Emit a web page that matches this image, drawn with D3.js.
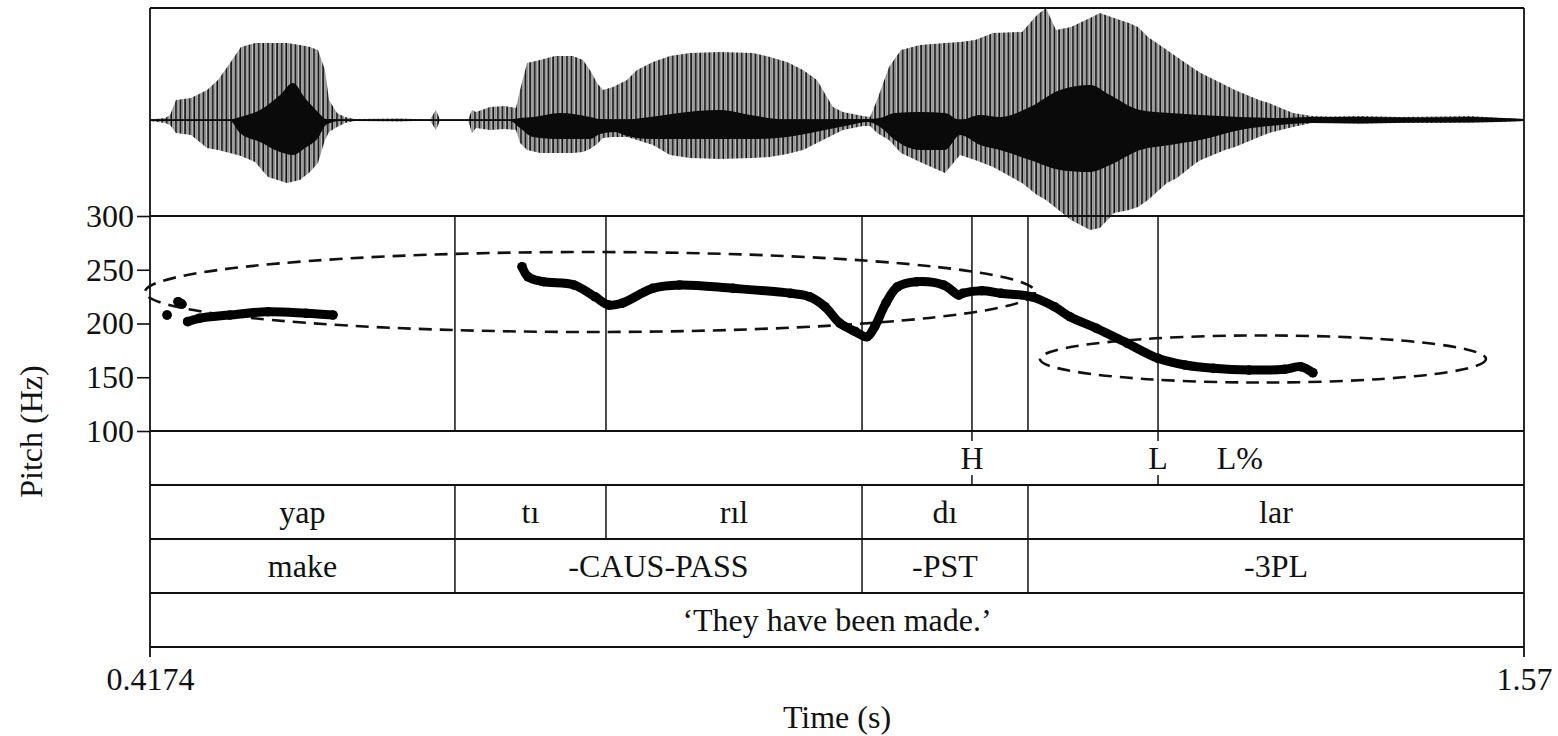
<!DOCTYPE html>
<html>
<head>
<meta charset="utf-8">
<script src="https://cdn.jsdelivr.net/npm/d3@7"></script>
<style>
  body { margin: 0; background: #fff; }
  svg { display: block; }
  text { font-family: "Liberation Serif", "Times New Roman", serif; fill: #111; }
</style>
</head>
<body>
<div id="chart"></div>
<script>
// ---- data ----
var timeDomain = [0.4174, 1.57];
var timeTicks = [0.4174, 1.57];
var timeTickLabels = ["0.4174", "1.57"];
var pitchTicks = [100, 150, 200, 250, 300];

// waveform outer envelope (time s, upper / lower amplitude)
var wfTime = [0.4174,0.4300,0.4342,0.4392,0.4518,0.4652,0.4744,0.4845,0.4937,0.5055,0.5164,0.5323,0.5432,0.5516,0.5583,0.5642,0.5676,0.5743,0.5810,0.5894,0.6271,0.6523,0.6573,0.6607,0.6842,0.6875,0.6909,0.7026,0.7152,0.7244,0.7278,0.7337,0.7446,0.7571,0.7722,0.7806,0.7865,0.7924,0.7974,0.8058,0.8175,0.8259,0.8393,0.8536,0.8704,0.8956,0.9232,0.9375,0.9518,0.9652,0.9769,0.9853,0.9903,0.9987,1.0071,1.0155,1.0214,1.0273,1.0373,1.0474,1.0633,1.0843,1.0969,1.1095,1.1246,1.1489,1.1615,1.1690,1.1774,1.1900,1.2059,1.2143,1.2261,1.2386,1.2462,1.2546,1.2705,1.2789,1.2948,1.2990,1.3192,1.3276,1.3477,1.3561,1.3762,1.3921,1.4073,1.4324,1.4660,1.4995,1.5247,1.5499,1.5700];
var wfUpper = [0.004,0.018,0.045,0.179,0.196,0.268,0.357,0.509,0.652,0.688,0.688,0.688,0.670,0.652,0.625,0.446,0.179,0.063,0.027,0.009,0.013,0.004,0.089,0.004,0.004,0.089,0.071,0.116,0.125,0.107,0.268,0.509,0.536,0.571,0.571,0.536,0.446,0.330,0.268,0.295,0.357,0.446,0.518,0.571,0.598,0.607,0.598,0.563,0.518,0.446,0.357,0.205,0.116,0.071,0.054,0.036,0.027,0.179,0.473,0.625,0.670,0.688,0.696,0.714,0.777,0.786,0.938,1.000,0.804,0.830,0.911,0.955,0.911,0.866,0.830,0.741,0.625,0.563,0.446,0.420,0.313,0.268,0.179,0.152,0.063,0.036,0.031,0.036,0.027,0.031,0.036,0.018,0.009];
var wfLower = [-0.009,-0.027,-0.045,-0.116,-0.134,-0.250,-0.268,-0.295,-0.321,-0.375,-0.509,-0.563,-0.536,-0.464,-0.384,-0.179,-0.107,-0.063,-0.027,-0.009,-0.013,-0.004,-0.089,-0.004,-0.004,-0.116,-0.071,-0.089,-0.080,-0.089,-0.205,-0.268,-0.295,-0.295,-0.295,-0.286,-0.259,-0.214,-0.161,-0.152,-0.152,-0.179,-0.223,-0.313,-0.339,-0.348,-0.339,-0.330,-0.304,-0.268,-0.205,-0.161,-0.134,-0.089,-0.071,-0.054,-0.054,-0.116,-0.179,-0.295,-0.375,-0.473,-0.313,-0.357,-0.420,-0.563,-0.670,-0.714,-0.786,-0.893,-0.982,-0.964,-0.830,-0.804,-0.777,-0.714,-0.563,-0.518,-0.384,-0.357,-0.268,-0.241,-0.152,-0.116,-0.063,-0.027,-0.027,-0.031,-0.027,-0.027,-0.022,-0.018,-0.009];

// waveform dense core (time s, upper / lower amplitude)
var coreTime = [0.4174,0.4845,0.4929,0.5097,0.5265,0.5374,0.5474,0.5583,0.5650,0.5768,0.7194,0.7278,0.7387,0.7613,0.7865,0.7949,0.8075,0.8175,0.8368,0.8762,0.8956,0.9232,0.9518,0.9794,1.0046,1.0197,1.0298,1.0423,1.0633,1.0843,1.0969,1.1137,1.1304,1.1556,1.1808,1.2059,1.2227,1.2479,1.2730,1.2982,1.3318,1.3653,1.3905,1.4324,1.4827,1.5247,1.5700];
var coreUpper = [0.005,0.005,0.027,0.089,0.223,0.330,0.196,0.071,0.009,0.005,0.005,0.018,0.027,0.063,0.027,0.009,0.004,0.004,0.027,0.080,0.089,0.040,0.004,0.004,0.009,0.009,0.018,0.063,0.071,0.063,0.000,0.045,0.027,0.116,0.268,0.313,0.223,0.089,0.063,0.045,0.027,0.018,0.027,0.027,0.022,0.027,0.009];
var coreLower = [-0.008,-0.008,-0.116,-0.196,-0.286,-0.313,-0.250,-0.161,-0.045,-0.008,-0.008,-0.071,-0.152,-0.170,-0.170,-0.125,-0.107,-0.143,-0.170,-0.170,-0.170,-0.170,-0.152,-0.098,-0.045,-0.018,-0.063,-0.179,-0.268,-0.268,-0.134,-0.223,-0.268,-0.357,-0.446,-0.464,-0.402,-0.268,-0.223,-0.179,-0.089,-0.045,-0.027,-0.031,-0.022,-0.022,-0.009];

// pitch track (null = gap)
var pitchTime = [0.4317,null,0.4409,0.4442,null,0.4489,0.4585,0.4845,0.5164,0.5483,0.5709,null,0.7295,0.7345,0.7471,0.7731,0.7907,0.8022,0.8133,0.8391,0.8616,0.9065,0.9547,0.9707,0.9836,0.9962,1.0092,1.0189,1.0253,1.0348,1.0445,1.0606,1.0831,1.0960,1.0991,1.1152,1.1313,1.1569,1.1761,1.1890,1.2114,1.2372,1.2629,1.2856,1.3095,1.3393,1.3692,1.3827,1.3929];
var pitchHz = [207.9,null,220.3,218.0,null,201.7,204.8,207.9,211.0,209.5,207.9,null,252.8,243.5,238.9,235.8,224.9,217.2,218.8,232.7,235.8,232.7,228.1,224.9,215.6,200.2,192.4,187.7,197.0,219.1,234.2,238.9,235.8,226.5,228.1,230.5,228.1,224.9,215.6,206.3,195.5,181.6,167.6,161.4,158.3,156.7,157.4,159.8,154.2];

// dashed pitch-range ellipses
var ellipseT = [0.7865, 1.3510];
var ellipseHz = [229.3, 167.0];
var ellipseHalfT = [0.3733, 0.1871];
var ellipseHalfHz = [37.2, 21.9];

// annotation tiers
var toneTimes = [1.1069, 1.2630, 1.3317];
var toneLabels = ["H", "L", "L%"];
var toneMarked = [true, true, false];
var sylStart = [0.4174, 0.6732, 0.7999, 1.0147, 1.1539];
var sylLabels = ["yap", "tı", "rıl", "dı", "lar"];
var glossStart = [0.4174, 0.6732, 1.0147, 1.1539];
var glossLabels = ["make", "-CAUS-PASS", "-PST", "-3PL"];
var transStart = [0.4174];
var transLabels = ["‘They have been made.’"];

// ---- layout ----
var W = 1558, H = 736;
var left = 150, right = 1524;
var waveTop = 8, pitchTop = 216, pitchBottom = 431;
var tierH = 54;
var fontSize = 32;

var svg = d3.select("#chart").append("svg").attr("width", W).attr("height", H);

var x = d3.scaleLinear().domain(timeDomain).range([left, right]);
var yP = d3.scaleLinear().domain([100, 300]).range([pitchBottom, pitchTop]);
var yW = d3.scaleLinear().domain([-1, 1]).range([232, waveTop]);

// stripe pattern for the glottal pulses
var pat = svg.append("defs").append("pattern")
  .attr("id", "pulses").attr("patternUnits", "userSpaceOnUse")
  .attr("width", 4.6).attr("height", 20);
pat.append("rect").attr("x", 0.2).attr("width", 2.0).attr("height", 20).attr("fill", "#0d0d0d");
pat.append("rect").attr("x", 2.9).attr("width", 1.2).attr("height", 20).attr("fill", "#7a7a7a");

// ---- waveform ----
var wfData = wfTime.map(function(t, i){ return {t: t, hi: wfUpper[i], lo: wfLower[i]}; });
var coreData = coreTime.map(function(t, i){ return {t: t, hi: coreUpper[i], lo: coreLower[i]}; });
var band = d3.area().x(function(d){ return x(d.t); })
  .y0(function(d){ return yW(d.lo); }).y1(function(d){ return yW(d.hi); });

svg.append("path").datum(wfData).attr("d", band).attr("fill", "url(#pulses)");
svg.append("line").attr("x1", left).attr("x2", right).attr("y1", yW(0)).attr("y2", yW(0))
  .attr("stroke", "#111").attr("stroke-width", 1.6);
svg.append("path").datum(coreData).attr("d", band.curve(d3.curveMonotoneX)).attr("fill", "#0a0a0a");

// ---- frame and tier lines ----
var tierTops = [pitchBottom, pitchBottom + tierH, pitchBottom + 2 * tierH, pitchBottom + 3 * tierH];
var tierBottom = pitchBottom + 4 * tierH;
var frame = svg.append("g").attr("stroke", "#111").attr("stroke-width", 1.8);
frame.append("line").attr("x1", left).attr("x2", right).attr("y1", waveTop).attr("y2", waveTop);
[pitchTop].concat(tierTops, [tierBottom]).forEach(function(yy){
  frame.append("line").attr("x1", left).attr("x2", right).attr("y1", yy).attr("y2", yy);
});
frame.append("line").attr("x1", left).attr("x2", left).attr("y1", waveTop).attr("y2", tierBottom + 10);
frame.append("line").attr("x1", right).attr("x2", right).attr("y1", waveTop).attr("y2", tierBottom + 10);

// boundaries through the pitch panel
var thin = svg.append("g").attr("stroke", "#111").attr("stroke-width", 1.5);
sylStart.slice(1).forEach(function(t){
  thin.append("line").attr("x1", x(t)).attr("x2", x(t)).attr("y1", pitchTop).attr("y2", pitchBottom);
  thin.append("line").attr("x1", x(t)).attr("x2", x(t)).attr("y1", tierTops[1]).attr("y2", tierTops[2]);
});
glossStart.slice(1).forEach(function(t){
  thin.append("line").attr("x1", x(t)).attr("x2", x(t)).attr("y1", tierTops[2]).attr("y2", tierTops[3]);
});
toneTimes.forEach(function(t, i){
  if (!toneMarked[i]) return;
  thin.append("line").attr("x1", x(t)).attr("x2", x(t)).attr("y1", pitchTop).attr("y2", pitchBottom + 10);
  thin.append("line").attr("x1", x(t)).attr("x2", x(t)).attr("y1", tierTops[1] - 10).attr("y2", tierTops[1]);
});

// ---- ellipses ----
ellipseT.forEach(function(t, i){
  svg.append("ellipse")
    .attr("cx", x(t)).attr("cy", yP(ellipseHz[i]))
    .attr("rx", x(t + ellipseHalfT[i]) - x(t))
    .attr("ry", yP(ellipseHz[i] - ellipseHalfHz[i]) - yP(ellipseHz[i]))
    .attr("fill", "none").attr("stroke", "#111").attr("stroke-width", 2.6)
    .attr("stroke-dasharray", "13,8");
});

// ---- pitch track ----
var pts = pitchTime.map(function(t, i){ return {t: t, f: pitchHz[i]}; });
var pline = d3.line().defined(function(d){ return d.t !== null; })
  .x(function(d){ return x(d.t); }).y(function(d){ return yP(d.f); })
  .curve(d3.curveCatmullRom);
svg.append("path").datum(pts).attr("d", pline)
  .attr("fill", "none").attr("stroke", "#000").attr("stroke-width", 9)
  .attr("stroke-linecap", "round").attr("stroke-linejoin", "round");
svg.selectAll(".pdot").data(pts.filter(function(d){ return d.t !== null; }))
  .enter().append("circle").attr("class", "pdot")
  .attr("cx", function(d){ return x(d.t); }).attr("cy", function(d){ return yP(d.f); })
  .attr("r", 4.8).attr("fill", "#000");

// ---- axes ----
var yAxis = svg.append("g").attr("transform", "translate(" + left + ",0)")
  .call(d3.axisLeft(yP).tickValues(pitchTicks).tickSize(13).tickPadding(3));
yAxis.select(".domain").remove();
yAxis.selectAll(".tick line").attr("stroke", "#111").attr("stroke-width", 1.6);
yAxis.selectAll("text").style("font-size", fontSize + "px").style("font-family", "Liberation Serif").attr("fill", "#111");

var xAxis = svg.append("g").attr("transform", "translate(0," + tierBottom + ")")
  .call(d3.axisBottom(x).tickValues(timeTicks).tickSize(0)
    .tickFormat(function(d, i){ return timeTickLabels[i]; }));
xAxis.select(".domain").remove();
xAxis.selectAll("text").attr("y", 43).attr("dy", 0)
  .style("font-size", fontSize + "px").style("font-family", "Liberation Serif").attr("fill", "#111");

svg.append("text").attr("x", (left + right) / 2).attr("y", 728)
  .attr("text-anchor", "middle").style("font-size", fontSize + "px").text("Time (s)");
svg.append("text").attr("transform", "translate(42," + ((pitchTop + tierBottom) / 2) + ") rotate(-90)")
  .attr("text-anchor", "middle").style("font-size", fontSize + "px").text("Pitch (Hz)");

// ---- tier labels ----
function drawTier(starts, labels, row){
  var yy = tierTops[row] + tierH / 2;
  starts.forEach(function(s, i){
    var e = i + 1 < starts.length ? starts[i + 1] : timeDomain[1];
    svg.append("text").attr("x", (x(s) + x(e)) / 2).attr("y", yy).attr("dy", "0.35em")
      .attr("text-anchor", "middle").style("font-size", fontSize + "px").text(labels[i]);
  });
}
toneTimes.forEach(function(t, i){
  svg.append("text").attr("x", x(t)).attr("y", tierTops[0] + tierH / 2).attr("dy", "0.35em")
    .attr("text-anchor", "middle").style("font-size", fontSize + "px").text(toneLabels[i]);
});
drawTier(sylStart, sylLabels, 1);
drawTier(glossStart, glossLabels, 2);
drawTier(transStart, transLabels, 3);
</script>
</body>
</html>
